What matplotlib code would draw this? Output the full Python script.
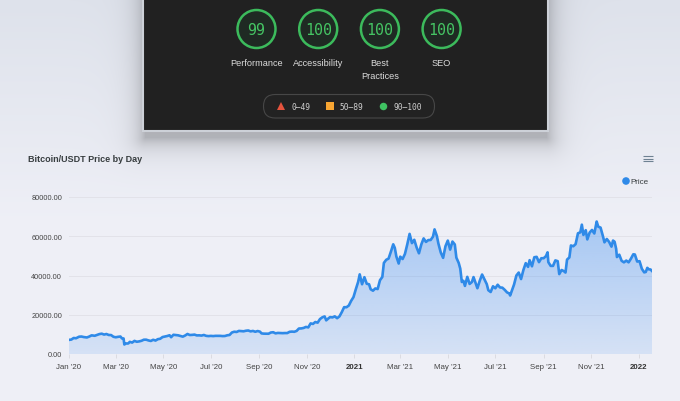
import numpy as np
import matplotlib
matplotlib.use("Agg")
import matplotlib.pyplot as plt
import matplotlib.dates as mdates
from matplotlib.patches import Rectangle, Circle, FancyBboxPatch
import datetime as dt

# ---------------- data ----------------
dates_str = [
 "2020-01-01","2020-01-04","2020-01-07","2020-01-10","2020-01-14","2020-01-17","2020-01-20","2020-01-24","2020-01-27","2020-01-30",
 "2020-02-03","2020-02-06","2020-02-09","2020-02-12","2020-02-15","2020-02-18","2020-02-21","2020-02-24","2020-02-27",
 "2020-03-01","2020-03-04","2020-03-07","2020-03-09","2020-03-11","2020-03-12","2020-03-14","2020-03-17","2020-03-19","2020-03-22","2020-03-25","2020-03-28","2020-03-31",
 "2020-04-03","2020-04-06","2020-04-09","2020-04-12","2020-04-15","2020-04-18","2020-04-21","2020-04-24","2020-04-27","2020-04-30",
 "2020-05-03","2020-05-06","2020-05-09","2020-05-11","2020-05-14","2020-05-17","2020-05-20","2020-05-23","2020-05-26","2020-05-29",
 "2020-06-01","2020-06-04","2020-06-07","2020-06-10","2020-06-13","2020-06-16","2020-06-19","2020-06-22","2020-06-25","2020-06-28",
 "2020-07-01","2020-07-04","2020-07-07","2020-07-10","2020-07-13","2020-07-16","2020-07-19","2020-07-22","2020-07-25","2020-07-28","2020-07-31",
 "2020-08-03","2020-08-06","2020-08-09","2020-08-12","2020-08-15","2020-08-18","2020-08-21","2020-08-24","2020-08-27","2020-08-30",
 "2020-09-02","2020-09-04","2020-09-07","2020-09-10","2020-09-13","2020-09-16","2020-09-19","2020-09-22","2020-09-25","2020-09-28",
 "2020-10-01","2020-10-04","2020-10-07","2020-10-10","2020-10-13","2020-10-16","2020-10-19","2020-10-22","2020-10-25","2020-10-28","2020-10-31",
 "2020-11-03","2020-11-06","2020-11-09","2020-11-12","2020-11-15","2020-11-18","2020-11-21","2020-11-24","2020-11-26","2020-11-29",
 "2020-12-01","2020-12-04","2020-12-07","2020-12-10","2020-12-13","2020-12-16","2020-12-19","2020-12-22","2020-12-25","2020-12-28","2020-12-31",
 "2021-01-03","2021-01-06","2021-01-08","2021-01-11","2021-01-14","2021-01-17","2021-01-20","2021-01-22","2021-01-25","2021-01-28","2021-01-31",
 "2021-02-03","2021-02-06","2021-02-08","2021-02-11","2021-02-14","2021-02-17","2021-02-20","2021-02-22","2021-02-24","2021-02-27",
 "2021-03-01","2021-03-04","2021-03-07","2021-03-10","2021-03-13","2021-03-16","2021-03-19","2021-03-22","2021-03-25","2021-03-28","2021-03-31",
 "2021-04-03","2021-04-06","2021-04-09","2021-04-12","2021-04-14","2021-04-17","2021-04-19","2021-04-22","2021-04-25","2021-04-28",
 "2021-05-01","2021-05-04","2021-05-07","2021-05-10","2021-05-12","2021-05-15","2021-05-17","2021-05-19","2021-05-21","2021-05-23","2021-05-26","2021-05-29",
 "2021-06-01","2021-06-03","2021-06-06","2021-06-08","2021-06-11","2021-06-14","2021-06-17","2021-06-20","2021-06-22","2021-06-25","2021-06-28",
 "2021-07-01","2021-07-04","2021-07-07","2021-07-10","2021-07-13","2021-07-16","2021-07-19","2021-07-20","2021-07-22","2021-07-25","2021-07-28","2021-07-31",
 "2021-08-03","2021-08-06","2021-08-09","2021-08-12","2021-08-14","2021-08-17","2021-08-20","2021-08-23","2021-08-26","2021-08-29",
 "2021-09-01","2021-09-04","2021-09-06","2021-09-07","2021-09-10","2021-09-13","2021-09-16","2021-09-19","2021-09-21","2021-09-24","2021-09-27","2021-09-29",
 "2021-10-01","2021-10-04","2021-10-06","2021-10-09","2021-10-12","2021-10-15","2021-10-18","2021-10-20","2021-10-22","2021-10-25","2021-10-27","2021-10-30",
 "2021-11-02","2021-11-05","2021-11-08","2021-11-10","2021-11-13","2021-11-16","2021-11-18","2021-11-21","2021-11-24","2021-11-27","2021-11-29",
 "2021-12-01","2021-12-03","2021-12-04","2021-12-07","2021-12-10","2021-12-13","2021-12-16","2021-12-19","2021-12-22","2021-12-25","2021-12-27","2021-12-30",
 "2022-01-02","2022-01-05","2022-01-08","2022-01-10","2022-01-12","2022-01-14","2022-01-16","2022-01-18",
]
prices = [
 7200,7350,8160,8020,8820,8900,8630,8430,8900,9500,
 9290,9750,10150,10350,9900,10180,9690,9650,8780,
 8530,8760,8900,7930,7930,4850,5360,5360,6190,5820,6680,6240,6420,
 6730,7280,7300,6910,6640,7250,6850,7550,7760,8630,
 8900,9160,9550,8560,9790,9670,9520,9180,8840,9420,
 10200,9670,9740,9880,9470,9510,9380,9690,9250,9120,
 9230,9130,9250,9270,9240,9130,9170,9530,9700,10950,11350,
 11230,11760,11680,11570,11850,11980,11530,11750,11330,11700,
 11390,10500,10370,10340,10330,10950,11090,10520,10740,10700,
 10620,10680,10670,11300,11420,11320,11750,12990,13030,13270,13800,
 13550,15590,15330,16300,15970,17800,18680,19150,17150,18190,
 18800,18650,19180,18250,19170,21330,23860,23820,24700,27080,28990,
 33000,36770,40580,35550,39150,35800,35520,33000,32250,33400,33090,
 37600,39250,46400,48000,48600,52150,55900,54100,49700,46100,
 49600,48400,50970,55850,61200,56500,58200,54300,51300,55800,58900,
 57100,58050,58100,59800,63500,60100,56200,51700,49000,54900,
 57800,53200,57300,55800,49100,46400,43500,36700,37300,34700,39300,35700,
 36700,39200,35800,33500,37300,40500,38100,35600,32500,31600,34500,
 33500,35300,33900,33800,32700,31400,30800,29800,32100,35400,40000,41500,
 38200,42800,46300,44400,47800,44700,49300,49500,46800,48800,
 48800,49900,51800,46800,44900,44900,47700,47300,40700,42800,42200,41500,
 48100,49200,55300,54900,56000,61500,62000,65900,60700,63100,58400,61900,
 63200,61400,67500,64900,64400,60100,56900,58600,57100,54700,57800,
 57200,53600,49400,50600,47500,46700,47600,46700,48600,50800,50700,47100,
 47300,43400,41600,41800,43900,43100,43100,42300,
]
tick_dates = ["2020-01-01","2020-03-01","2020-05-01","2020-07-01","2020-09-01","2020-11-01",
              "2021-01-01","2021-03-01","2021-05-01","2021-07-01","2021-09-01","2021-11-01","2022-01-01"]
tick_labels = ["Jan '20","Mar '20","May '20","Jul '20","Sep '20","Nov '20",
               "2021","Mar '21","May '21","Jul '21","Sep '21","Nov '21","2022"]
y_ticks = [0, 20000, 40000, 60000, 80000]
score_names = ["Performance", "Accessibility", "Best\nPractices", "SEO"]
score_values = [99, 100, 100, 100]
legend_ranges = ["0–49", "50–89", "90–100"]

# ---------------- figure ----------------
W, H = 680, 402
fig = plt.figure(figsize=(W/100, H/100), dpi=100)
SANS = ["Liberation Sans", "DejaVu Sans"]
MONO = ["DejaVu Sans Mono"]

# background with shadow
bg = fig.add_axes([0, 0, 1, 1])
bg.set_xlim(0, W); bg.set_ylim(H, 0); bg.axis("off")
yy, xx = np.mgrid[0:H, 0:W].astype(float)
top = np.array([0xde, 0xe2, 0xeb]) / 255
bot = np.array([0xef, 0xf0, 0xf7]) / 255
t = np.clip(yy / 230.0, 0, 1)[..., None]
base = top * (1 - t) + bot * t
x0, x1, y0, y1 = 145, 546, -40, 138
dx = np.maximum(np.maximum(x0 - xx, xx - x1), 0)
dy = np.maximum(np.maximum(y0 - yy, yy - y1), 0)
d = np.hypot(dx, dy)
s = 0.24 * np.exp(-d / 11.0)
img = base * (1 - s[..., None])
bg.imshow(img, extent=[0, W, H, 0], aspect="auto", zorder=0, interpolation="bilinear")

# dark lighthouse panel
bg.add_patch(Rectangle((143, -5), 405, 137, facecolor="#212121", edgecolor="#cdd1d8", lw=1.5, zorder=1))
cx0, cstep = 256.5, 61.7
for i, (nm, v) in enumerate(zip(score_names, score_values)):
    cx = cx0 + i * cstep
    bg.add_patch(Circle((cx, 30), 19, facecolor="#1f2a23", edgecolor="#3cbb5c", lw=1.8, zorder=2))
    bg.text(cx, 30.5, str(v), ha="center", va="center", color="#45c463", fontsize=10.8,
            family=MONO, zorder=3)
    if "\n" in nm:
        a, b = nm.split("\n")
        bg.text(cx, 63.5, a, ha="center", va="center", color="#dcdcdc", fontsize=6.6, family=SANS, zorder=3)
        bg.text(cx, 76.5, b, ha="center", va="center", color="#dcdcdc", fontsize=6.6, family=SANS, zorder=3)
    else:
        bg.text(cx, 63.5, nm, ha="center", va="center", color="#dcdcdc", fontsize=6.6, family=SANS, zorder=3)

bg.add_patch(FancyBboxPatch((263.5, 95.5), 171, 23.5, boxstyle="round,pad=0,rounding_size=11.7",
                            facecolor="#222222", edgecolor="#474747", lw=0.8, zorder=2))
mk = [("^", "#e5533d", 280.5, 6.0), ("s", "#f7a532", 329.5, 5.2), ("o", "#3fc262", 383, 5.4)]
tx = [291.5, 340, 394]
for (m, c, x, ms), lab, xt in zip(mk, legend_ranges, tx):
    bg.plot([x], [107.3], marker=m, color=c, ms=ms, mew=0, zorder=3)
    bg.text(xt, 107.5, lab, ha="left", va="center", color="#cfcfcf", fontsize=5.7, family=MONO, zorder=3)

# title, menu, legend
bg.text(28, 160, "Bitcoin/USDT Price by Day", ha="left", va="center", fontsize=6.5,
        fontweight="bold", color="#373d3f", family=SANS, zorder=3)
for yv in (157.3, 159.8, 162.3):
    bg.plot([642.5, 652.5], [yv, yv], color="#6e8192", lw=0.8, solid_capstyle="butt", zorder=3)
bg.add_patch(Circle((626, 182), 3.8, facecolor="#2f8ae8", edgecolor="none", zorder=3))
bg.text(630.5, 182.5, "Price", ha="left", va="center", fontsize=5.8, color="#373d3f", family=SANS, zorder=3)

# ---------------- chart ----------------
L, R, B, T = 69, 652, 355, 198
ax = fig.add_axes([L / W, (H - B) / H, (R - L) / W, (B - T) / H])
ax.set_facecolor("none")
dates = [dt.datetime.strptime(s_, "%Y-%m-%d") for s_ in dates_str]
xnum = mdates.date2num(dates)
xmin = mdates.date2num(dt.datetime(2020, 1, 1))
xmax = mdates.date2num(dt.datetime(2022, 1, 18))
ax.set_xlim(xmin, xmax)
ax.set_ylim(0, 80000)

poly = ax.fill_between(xnum, prices, 0, color="none", lw=0)
grad = np.zeros((256, 1, 4))
grad[..., 0] = 0x3d / 255; grad[..., 1] = 0x8e / 255; grad[..., 2] = 0xf0 / 255
grad[:, 0, 3] = np.linspace(0.14, 0.45, 256)
im = ax.imshow(grad, extent=[xmin, xmax, 0, 80000], origin="lower", aspect="auto", zorder=1)
im.set_clip_path(poly.get_paths()[0], transform=ax.transData)
ax.plot(xnum, prices, color="#2f8ae8", lw=1.9, solid_joinstyle="round", zorder=3)

ax.set_yticks(y_ticks)
ax.set_yticklabels([f"{v:.2f}" for v in y_ticks])
ax.yaxis.grid(True, color="#e2e2e9", lw=0.7)
ax.set_axisbelow(True)
for sp in ax.spines.values():
    sp.set_visible(False)
ax.tick_params(axis="y", length=0, pad=5, labelsize=5.3, labelcolor="#444444")
for lab in ax.get_yticklabels():
    lab.set_family(SANS)

tpos = mdates.date2num([dt.datetime.strptime(s_, "%Y-%m-%d") for s_ in tick_dates])
ax.set_xticks(tpos)
ax.set_xticklabels(tick_labels)
ax.tick_params(axis="x", length=3, width=0.6, color="#d8d8de", pad=3.5, labelsize=5.7, labelcolor="#444444")
for lab in ax.get_xticklabels():
    lab.set_family(SANS)
    if lab.get_text() in ("2021", "2022"):
        lab.set_fontweight("bold")
        lab.set_color("#333333")

fig.savefig("out.png", dpi=100)
